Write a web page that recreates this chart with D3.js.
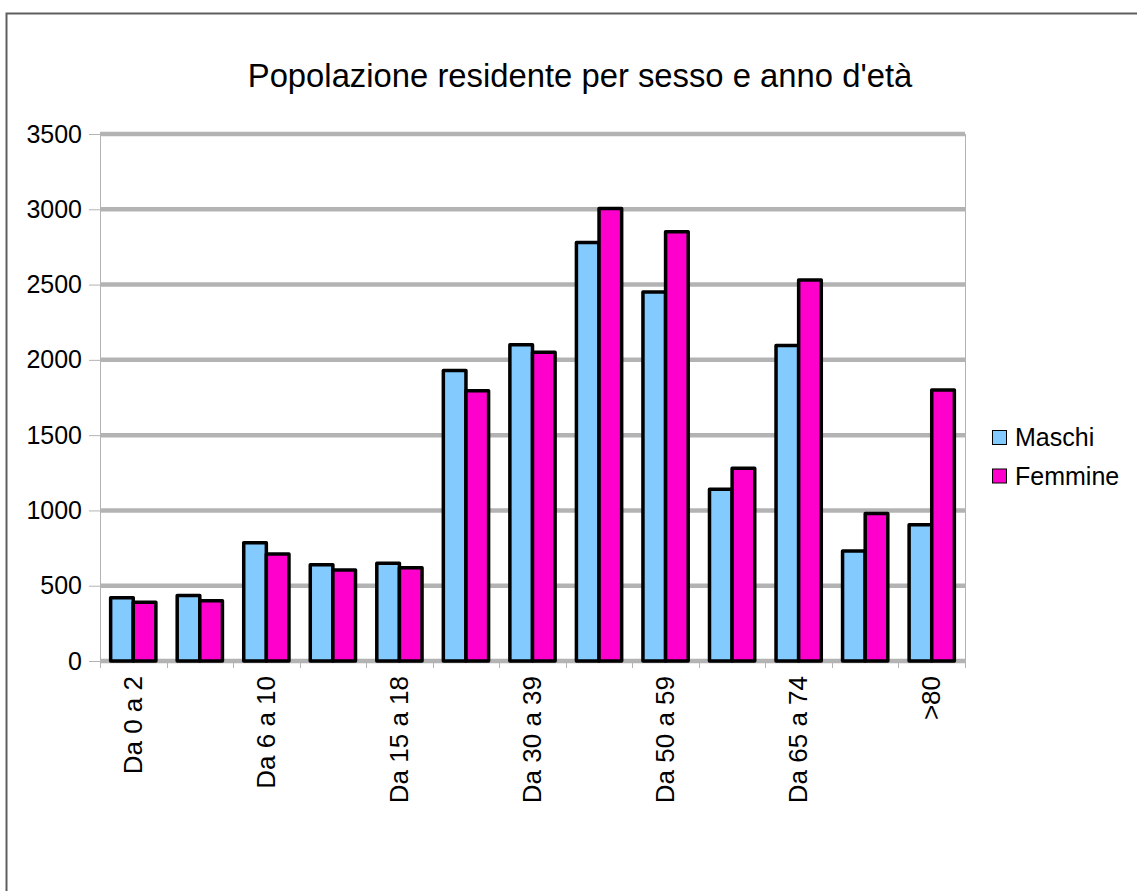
<!DOCTYPE html>
<html>
<head>
<meta charset="utf-8">
<script src="https://cdn.jsdelivr.net/npm/d3@7"></script>
<style>
  body { margin: 0; background: #fff; }
  svg { display: block; font-family: "Liberation Sans", Arial, sans-serif; }
</style>
</head>
<body>
<svg id="chart" width="1137" height="891"></svg>
<script>
// data
var categories = ["Da 0 a 2", "Da 3 a 5", "Da 6 a 10", "Da 11 a 14", "Da 15 a 18", "Da 19 a 29",
  "Da 30 a 39", "Da 40 a 49", "Da 50 a 59", "Da 60 a 64", "Da 65 a 74", "Da 75 a 79", ">80"]
var maschi  = [420, 435, 785, 640, 650, 1930, 2100, 2780, 2450, 1140, 2095, 730, 905]
var femmine = [390, 400, 710, 605, 620, 1795, 2050, 3005, 2850, 1280, 2530, 980, 1800]
var seriesNames = ["Maschi", "Femmine"]
var seriesColors = ["#83caff", "#ff00cc"]
var yTicks = [0, 500, 1000, 1500, 2000, 2500, 3000, 3500]
var title = "Popolazione residente per sesso e anno d'età"

var svg = d3.select("#chart")
var pLeft = 100, pRight = 965, pTop = 134, pBottom = 661

// outer frame (only top/left edges are visible in the window)
svg.append("rect")
  .attr("x", 6.5).attr("y", 13.5)
  .attr("width", 1300).attr("height", 1100)
  .attr("fill", "none").attr("stroke", "#5f5f5f").attr("stroke-width", 2)

svg.append("text")
  .attr("x", 580).attr("y", 87)
  .attr("text-anchor", "middle")
  .attr("font-size", 32.8)
  .attr("fill", "#000")
  .text(title)

var x = d3.scaleBand().domain(categories).range([pLeft, pRight]).padding(0)
var step = x.step()
var groupW = step * 0.68
var xs = d3.scaleBand().domain(seriesNames).range([0, groupW])
var y = d3.scaleLinear().domain([0, 3500]).range([pBottom, pTop])

// gridlines
svg.append("g").selectAll("line").data(yTicks).enter().append("line")
  .attr("x1", pLeft).attr("x2", pRight)
  .attr("y1", d => y(d)).attr("y2", d => y(d))
  .attr("stroke", "#b3b3b3").attr("stroke-width", 4.5)

// y axis
var yAxis = svg.append("g")
  .attr("transform", "translate(" + pLeft + ",0)")
  .call(d3.axisLeft(y).tickValues(yTicks).tickSize(11).tickPadding(7).tickFormat(d3.format("d")))
yAxis.select(".domain").attr("stroke", "#b3b3b3").attr("d", "M0.5," + pTop + "V" + (pBottom + 7))
yAxis.selectAll(".tick line").attr("stroke", "#b3b3b3")
yAxis.selectAll(".tick text").attr("font-size", 25).attr("fill", "#000")
  .attr("font-family", "Liberation Sans, Arial, sans-serif")

// right border of plot
svg.append("line")
  .attr("x1", pRight + 0.5).attr("x2", pRight + 0.5)
  .attr("y1", pTop).attr("y2", pBottom + 7)
  .attr("stroke", "#b3b3b3").attr("stroke-width", 1)

// x ticks at category boundaries
var bounds = categories.map(c => x(c)).concat([pRight])
svg.append("g").selectAll("line").data(bounds).enter().append("line")
  .attr("x1", d => Math.round(d) + 0.5).attr("x2", d => Math.round(d) + 0.5)
  .attr("y1", pBottom).attr("y2", pBottom + 7)
  .attr("stroke", "#b3b3b3")

// x labels (every other one, as in the original)
svg.append("g").selectAll("text").data(categories).enter()
  .filter((d, i) => i % 2 == 0)
  .append("text")
  .attr("transform", d => "translate(" + (x(d) + step / 2 + 8.5) + "," + 676 + ") rotate(-90)")
  .attr("text-anchor", "end")
  .attr("font-size", 26)
  .attr("fill", "#000")
  .text(d => d)

// bars
var rows = categories.map((c, i) => ({cat: c, vals: [maschi[i], femmine[i]]}))
var groups = svg.append("g").selectAll("g").data(rows).enter().append("g")
  .attr("transform", d => "translate(" + (x(d.cat) + (step - groupW) / 2) + ",0)")
groups.selectAll("rect").data(d => d.vals.map((v, j) => ({s: seriesNames[j], v: v, c: seriesColors[j]})))
  .enter().append("rect")
  .attr("x", d => xs(d.s))
  .attr("width", xs.bandwidth())
  .attr("y", d => y(d.v))
  .attr("height", d => y(0) - y(d.v))
  .attr("fill", d => d.c)
  .attr("stroke", "#000").attr("stroke-width", 3.5)
  .attr("stroke-linejoin", "round")

// legend
var leg = svg.append("g").selectAll("g").data(seriesNames).enter().append("g")
  .attr("transform", (d, i) => "translate(992," + (430 + i * 38.5) + ")")
leg.append("rect")
  .attr("x", 0.5).attr("y", 0.5).attr("width", 14).attr("height", 14)
  .attr("fill", (d, i) => seriesColors[i]).attr("stroke", "#000").attr("stroke-width", 1)
leg.append("text")
  .attr("x", 23).attr("y", 16)
  .attr("font-size", 25).attr("fill", "#000")
  .text(d => d)
</script>
</body>
</html>
